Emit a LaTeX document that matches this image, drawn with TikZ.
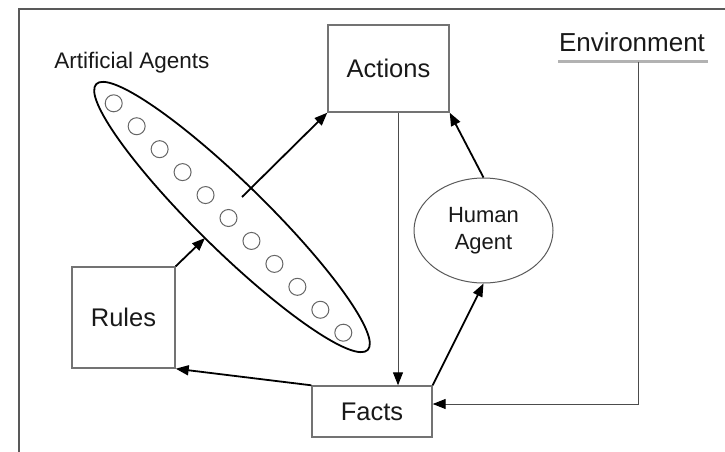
\documentclass[tikz,border=0pt]{standalone}
\usepackage{fontspec}
\setmainfont{Liberation Sans}
\usetikzlibrary{arrows.meta,shapes.geometric}
\begin{document}
\begin{tikzpicture}[x=1pt,y=-1pt,
  box/.style={draw=black!55,line width=1.4pt,rectangle,inner sep=0pt,text=black!90,font=\fontsize{25.5}{28}\selectfont},
  flow/.style={line width=1.8pt,-{Triangle[length=13pt,width=10pt]}},
  thinflow/.style={draw=black!70,line width=1pt,-{Triangle[length=13pt,width=10pt,fill=black,color=black]}},
  agent/.style={draw=black!60,line width=1pt,circle,minimum size=17pt,inner sep=0pt},
  lbl/.style={text=black!90,inner sep=0pt}]
\useasboundingbox (0,0) rectangle (725,452);
\fill[white] (0,0) rectangle (725,452);
% frame
\draw[black!65,line width=2pt] (19,452) -- (19,9) -- (725,9);
% nodes
\node[box,minimum width=121pt,minimum height=87pt] (actions) at (388.5,68.5) {Actions};
\node[box,minimum width=103pt,minimum height=101pt] (rules) at (123.5,317.5) {Rules};
\node[box,minimum width=120pt,minimum height=51pt] (facts) at (372,411.5) {Facts};
\node[draw=black!65,line width=1pt,ellipse,minimum width=139pt,minimum height=105pt,inner sep=0pt,
  text=black!90,align=center,font=\fontsize{22}{27}\selectfont] (human) at (483.5,230.5) {Human\\Agent};
\node[lbl,font=\fontsize{26}{28}\selectfont] (env) at (632,42) {Environment};
\draw[black!30,line width=3pt] (558,62) -- (708,62);
\coordinate (envb) at (638,62);
\coordinate (envc) at (638,404);
\node[lbl,font=\fontsize{22.5}{26}\selectfont] (aalabel) at (132,63) {Artificial Agents};
\node[draw=black,line width=1.8pt,ellipse,rotate=-44.4,minimum width=380pt,minimum height=68pt,inner sep=0pt] (aa) at (232,217) {};
\foreach \i in {0,...,10} {
  \node[agent] (ag\i) at ({113.7+\i*22.96},{103.3+\i*22.94}) {};
}
\coordinate (aa1) at (205,238);
\coordinate (aa2) at (242,197);
\coordinate (af) at (398,0);
% connectors
\draw[flow] (rules.north east) -- (aa1);
\draw[flow] (aa2) -- (actions.south west);
\draw[thinflow] (actions.south -| af) -- (facts.north -| af);
\draw[flow] (human.north) -- (actions.south east);
\draw[flow] (facts.north east) -- (human.south);
\draw[flow] (facts.north west) -- (rules.south east);
\draw[thinflow] (envb) -- (envc) -- (envc -| facts.east);
\end{tikzpicture}
\end{document}
